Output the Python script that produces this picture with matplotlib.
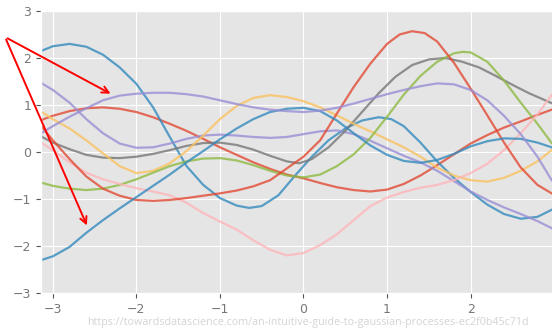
import numpy as np
import matplotlib.pyplot as plt

plt.style.use('ggplot')

red_a_x = [-3.14, -3.0, -2.8, -2.6, -2.4, -2.2, -2.0, -1.8, -1.6, -1.4, -1.2, -1.0, -0.8, -0.6, -0.4, -0.2, 0.0, 0.2, 0.4, 0.6, 0.8, 1.0, 1.2, 1.4, 1.6, 1.8, 2.0, 2.2, 2.4, 2.6, 2.8, 2.97]
red_a_y = [0.68, 0.77, 0.87, 0.93, 0.95, 0.92, 0.85, 0.74, 0.6, 0.45, 0.28, 0.1, -0.06, -0.22, -0.36, -0.48, -0.56, -0.66, -0.75, -0.81, -0.84, -0.8, -0.68, -0.5, -0.28, -0.05, 0.18, 0.36, 0.52, 0.65, 0.79, 0.9]

blue_a_x = [-3.14, -3.0, -2.8, -2.6, -2.4, -2.2, -2.0, -1.8, -1.6, -1.4, -1.2, -1.0, -0.8, -0.65, -0.5, -0.3, -0.1, 0.1, 0.3, 0.5, 0.7, 0.9, 1.05, 1.2, 1.4, 1.6, 1.8, 2.0, 2.2, 2.4, 2.6, 2.8, 2.97]
blue_a_y = [2.15, 2.25, 2.3, 2.24, 2.07, 1.8, 1.45, 0.95, 0.32, -0.3, -0.7, -0.98, -1.14, -1.19, -1.15, -0.92, -0.5, -0.1, 0.25, 0.5, 0.67, 0.74, 0.7, 0.55, 0.2, -0.2, -0.55, -0.85, -1.12, -1.32, -1.42, -1.38, -1.23]

purple_a_x = [-3.14, -3.0, -2.8, -2.6, -2.4, -2.2, -2.0, -1.8, -1.6, -1.4, -1.2, -1.0, -0.8, -0.6, -0.4, -0.2, 0.0, 0.2, 0.4, 0.6, 0.8, 1.0, 1.2, 1.4, 1.6, 1.8, 2.0, 2.2, 2.4, 2.6, 2.8, 2.97]
purple_a_y = [1.47, 1.32, 1.05, 0.7, 0.4, 0.18, 0.09, 0.1, 0.18, 0.28, 0.35, 0.37, 0.35, 0.32, 0.3, 0.32, 0.38, 0.44, 0.46, 0.38, 0.24, 0.08, -0.08, -0.22, -0.4, -0.62, -0.84, -1.02, -1.18, -1.32, -1.47, -1.62]

gray_x = [-3.14, -3.0, -2.8, -2.6, -2.4, -2.2, -2.0, -1.8, -1.6, -1.4, -1.2, -1.0, -0.8, -0.6, -0.4, -0.2, -0.05, 0.1, 0.3, 0.5, 0.7, 0.9, 1.1, 1.3, 1.5, 1.7, 1.9, 2.1, 2.3, 2.5, 2.7, 2.97]
gray_y = [0.33, 0.2, 0.06, -0.06, -0.12, -0.13, -0.1, -0.04, 0.04, 0.13, 0.19, 0.2, 0.15, 0.05, -0.08, -0.2, -0.24, -0.15, 0.1, 0.45, 0.85, 1.25, 1.6, 1.85, 1.97, 2.0, 1.92, 1.8, 1.62, 1.43, 1.25, 1.04]

yellow_x = [-3.14, -3.0, -2.8, -2.6, -2.4, -2.2, -2.0, -1.8, -1.6, -1.4, -1.2, -1.0, -0.8, -0.6, -0.4, -0.2, 0.0, 0.2, 0.4, 0.6, 0.8, 1.0, 1.2, 1.4, 1.6, 1.8, 2.0, 2.2, 2.4, 2.6, 2.8, 2.97]
yellow_y = [0.86, 0.7, 0.5, 0.25, -0.03, -0.3, -0.45, -0.4, -0.24, 0.02, 0.35, 0.7, 0.98, 1.15, 1.21, 1.17, 1.08, 0.95, 0.78, 0.6, 0.44, 0.27, 0.1, -0.1, -0.33, -0.5, -0.6, -0.63, -0.55, -0.4, -0.2, 0.04]

green_x = [-3.14, -3.0, -2.8, -2.6, -2.4, -2.2, -2.0, -1.8, -1.6, -1.4, -1.2, -1.0, -0.8, -0.6, -0.4, -0.2, 0.0, 0.2, 0.4, 0.6, 0.8, 1.0, 1.2, 1.4, 1.6, 1.8, 1.9, 2.0, 2.2, 2.4, 2.6, 2.8, 2.97]
green_y = [-0.65, -0.72, -0.78, -0.81, -0.78, -0.7, -0.58, -0.44, -0.3, -0.2, -0.14, -0.13, -0.18, -0.28, -0.4, -0.5, -0.54, -0.48, -0.3, -0.05, 0.3, 0.75, 1.22, 1.62, 1.92, 2.1, 2.13, 2.12, 1.92, 1.52, 1.05, 0.6, 0.19]

pink_x = [-3.14, -3.0, -2.8, -2.6, -2.4, -2.2, -2.0, -1.8, -1.6, -1.4, -1.2, -1.0, -0.8, -0.6, -0.4, -0.2, 0.0, 0.2, 0.4, 0.6, 0.8, 1.0, 1.2, 1.4, 1.6, 1.8, 2.0, 2.2, 2.4, 2.6, 2.8, 2.97]
pink_y = [0.2, 0.04, -0.22, -0.44, -0.58, -0.68, -0.77, -0.84, -0.92, -1.08, -1.3, -1.48, -1.65, -1.88, -2.08, -2.2, -2.15, -1.98, -1.75, -1.45, -1.15, -0.97, -0.85, -0.76, -0.7, -0.6, -0.45, -0.25, 0.04, 0.4, 0.8, 1.21]

red_b_x = [-3.14, -3.0, -2.8, -2.6, -2.4, -2.2, -2.0, -1.8, -1.6, -1.4, -1.2, -1.0, -0.8, -0.6, -0.4, -0.2, 0.0, 0.2, 0.4, 0.6, 0.8, 1.0, 1.15, 1.3, 1.45, 1.6, 1.8, 2.0, 2.2, 2.4, 2.6, 2.8, 2.97]
red_b_y = [0.55, 0.25, -0.15, -0.52, -0.78, -0.93, -1.02, -1.04, -1.02, -0.98, -0.93, -0.88, -0.82, -0.73, -0.6, -0.35, -0.1, 0.25, 0.82, 1.38, 1.88, 2.3, 2.5, 2.57, 2.53, 2.35, 1.9, 1.35, 0.78, 0.2, -0.33, -0.7, -0.88]

blue_b_x = [-3.14, -3.0, -2.8, -2.6, -2.4, -2.2, -2.0, -1.8, -1.6, -1.4, -1.2, -1.0, -0.8, -0.6, -0.4, -0.2, 0.0, 0.2, 0.4, 0.6, 0.8, 1.0, 1.2, 1.4, 1.6, 1.8, 2.0, 2.2, 2.4, 2.6, 2.8, 2.97]
blue_b_y = [-2.3, -2.22, -2.02, -1.72, -1.45, -1.2, -0.96, -0.72, -0.48, -0.22, 0.02, 0.27, 0.5, 0.7, 0.85, 0.92, 0.94, 0.87, 0.67, 0.4, 0.14, -0.06, -0.19, -0.23, -0.17, -0.04, 0.12, 0.23, 0.29, 0.28, 0.2, 0.1]

purple_b_x = [-3.14, -3.0, -2.8, -2.6, -2.4, -2.2, -2.0, -1.8, -1.6, -1.4, -1.2, -1.0, -0.8, -0.6, -0.4, -0.2, 0.0, 0.2, 0.4, 0.6, 0.8, 1.0, 1.2, 1.4, 1.6, 1.8, 2.0, 2.2, 2.4, 2.6, 2.8, 2.97]
purple_b_y = [0.4, 0.55, 0.75, 0.93, 1.1, 1.2, 1.24, 1.26, 1.26, 1.23, 1.18, 1.1, 1.02, 0.95, 0.9, 0.87, 0.85, 0.88, 0.94, 1.03, 1.13, 1.23, 1.32, 1.4, 1.46, 1.44, 1.32, 1.1, 0.77, 0.38, -0.1, -0.6]

curves = [
    (red_a_x, red_a_y), (blue_a_x, blue_a_y), (purple_a_x, purple_a_y),
    (gray_x, gray_y), (yellow_x, yellow_y), (green_x, green_y),
    (pink_x, pink_y), (red_b_x, red_b_y), (blue_b_x, blue_b_y),
    (purple_b_x, purple_b_y),
]

fig = plt.figure(figsize=(5.52, 3.34), dpi=100)
ax = fig.add_axes([41 / 552, 41 / 334, 525 / 552, 282 / 334])

for cx, cy in curves:
    ax.plot(cx, cy, lw=1.6, alpha=0.8)

ax.set_xlim(-np.pi, np.pi)
ax.set_ylim(-3, 3)
ax.set_xticks([-3, -2, -1, 0, 1, 2, 3])
ax.set_yticks([-3, -2, -1, 0, 1, 2, 3])
ax.tick_params(labelsize=9, colors='#555555', labelcolor='#777777')

# red arrows pointing into the plot
arrow = dict(arrowstyle='->', color='red', lw=1.4, mutation_scale=12)
fig.add_artist(plt.Annotation('', xy=(113, 239), xytext=(5, 297),
                              xycoords='figure pixels', arrowprops=arrow))
fig.add_artist(plt.Annotation('', xy=(88, 106), xytext=(5, 297),
                              xycoords='figure pixels', arrowprops=arrow))

fig.text(308 / 552, 11 / 334,
         "https://towardsdatascience.com/an-intuitive-guide-to-gaussian-processes-ec2f0b45c71d",
         ha='center', va='center', fontsize=7.75, color='#d4d4d4', family='Open Sans')

fig.savefig("out.png", dpi=100)
